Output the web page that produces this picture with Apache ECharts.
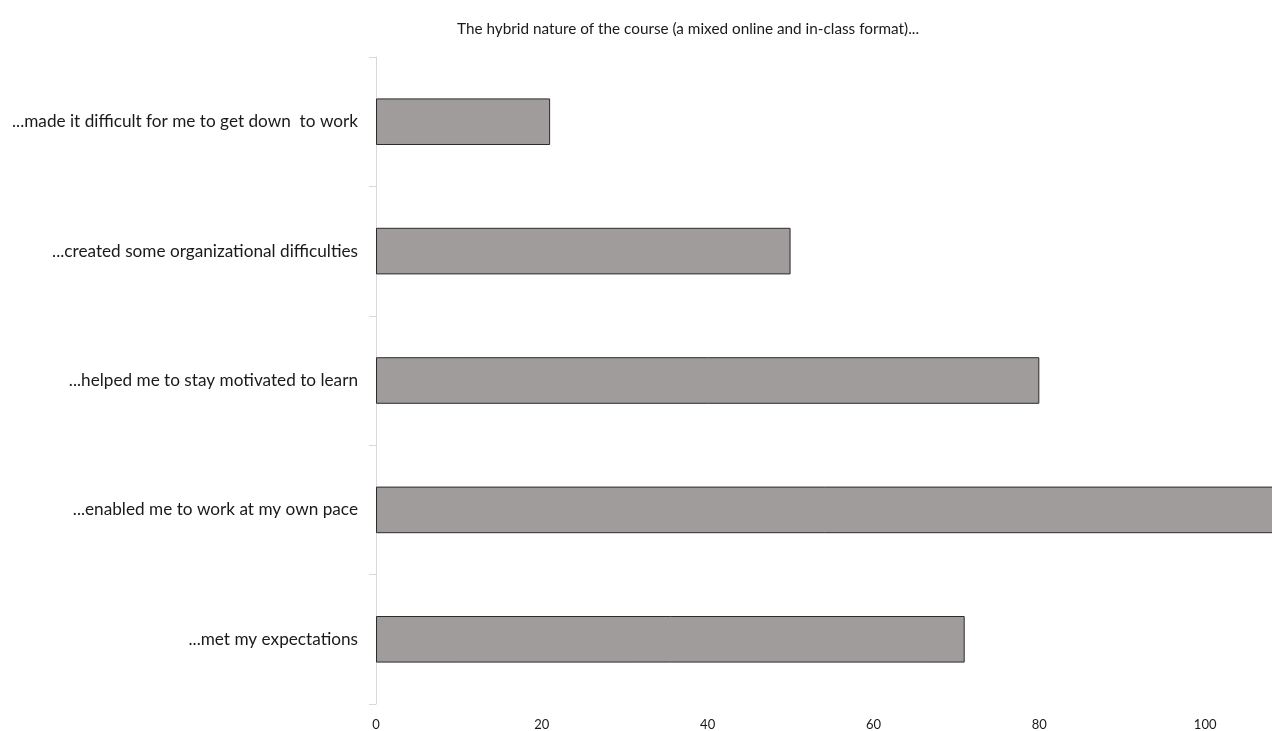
<!DOCTYPE html>
<html><head><meta charset="utf-8">
<script src="https://cdn.jsdelivr.net/npm/echarts@6/dist/echarts.min.js"></script>
<style>html,body{margin:0;padding:0;background:#fff}#c{width:1272px;height:731px}</style>
</head><body><div id="c"></div>
<script>
var categories = ["...made it difficult for me to get down  to work","...created some organizational difficulties","...helped me to stay motivated to learn","...enabled me to work at my own pace","...met my expectations"];
var values = [21, 50, 80, 110, 71];
var tickLabels = [0, 20, 40, 60, 80, 100];
var titleText = "The hybrid nature of the course (a mixed online and in-class format)...";

var chart = echarts.init(document.getElementById('c'));
chart.setOption({
  animation:false,
  title:{text:titleText,left:683,textAlign:'center',top:17,textStyle:{fontFamily:'Lato',fontSize:15.3,fontWeight:'normal',color:'#1a1a1a'}},
  grid:{left:376,top:57,bottom:27,right:0},
  xAxis:{type:'value',min:0,max:107.7,interval:20,
    axisLine:{show:false},axisTick:{show:false},splitLine:{show:false},
    axisLabel:{fontFamily:'Lato',fontSize:13,color:'#1a1a1a',margin:14,
      formatter:function(v){return tickLabels.indexOf(v)>=0?String(v):'';}}},
  yAxis:{type:'category',data:categories.slice().reverse(),
    axisLine:{lineStyle:{color:'#d9d9d9'}},
    axisTick:{show:true,length:7,lineStyle:{color:'#d9d9d9'}},
    axisLabel:{fontFamily:'Lato',fontSize:17.2,color:'#1a1a1a',margin:18}},
  series:[{type:'bar',data:values.slice().reverse(),barWidth:'36%',clip:false,
    itemStyle:{color:'#a09c9b',borderColor:'#2b2b2b',borderWidth:1}}]
});
</script></body></html>
